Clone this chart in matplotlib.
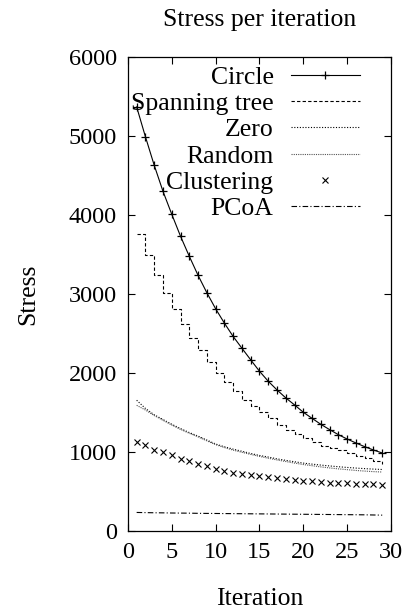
import matplotlib
matplotlib.use("Agg")
import matplotlib.pyplot as plt

plt.rcParams["font.family"] = ["Liberation Serif", "DejaVu Serif"]

iterations = list(range(1, 30))

circle = [5368, 4990, 4630, 4300, 4010, 3731, 3477, 3236, 3016, 2813,
          2631, 2462, 2313, 2166, 2022, 1895, 1785, 1684, 1595, 1502,
          1425, 1349, 1282, 1218, 1163, 1113, 1066, 1024, 986]
spanning_tree = [3756, 3494, 3245, 3016, 2808, 2614, 2445, 2284, 2132, 2001,
                 1882, 1768, 1662, 1586, 1502, 1430, 1345, 1282, 1227, 1176,
                 1129, 1078, 1049, 1024, 986, 952, 922, 879, 850]
zero = [1654, 1550, 1470, 1410, 1350, 1295, 1245, 1200, 1150, 1100,
        1065, 1035, 1008, 980, 955, 935, 912, 893, 875, 858,
        845, 833, 822, 812, 803, 795, 788, 782, 777]
random_init = [1590, 1530, 1460, 1400, 1340, 1285, 1235, 1190, 1140, 1092,
               1055, 1022, 995, 968, 943, 920, 898, 878, 858, 840,
               825, 810, 797, 785, 775, 765, 757, 750, 745]
clustering = [1119, 1084, 1030, 1000, 958, 916, 886, 852, 818, 780,
              755, 735, 722, 712, 700, 688, 672, 660, 648, 635,
              625, 618, 610, 605, 600, 596, 592, 588, 585]
pcoa = [233, 231, 229, 228, 226, 225, 224, 222, 221, 220,
        219, 218, 217, 216, 215, 214, 213, 212, 211, 210,
        209, 208, 207, 206, 205, 204, 203, 201, 199]

fig = plt.figure(figsize=(4.06, 6.13), dpi=100)
ax = fig.add_axes([0.315, 0.134, 0.648, 0.773])

lw = 0.8
ax.plot(iterations, circle, color="black", lw=lw, marker="+", ms=6, mew=0.9,
        label="Circle")
ax.plot(iterations, spanning_tree, color="black", lw=lw, ls=(0, (3, 2)),
        drawstyle="steps-post", label="Spanning tree")
ax.plot(iterations, zero, color="black", lw=lw, ls=(0, (1, 1.5)),
        label="Zero")
ax.plot(iterations, random_init, color="#555555", lw=lw, ls=(0, (1, 1)),
        label="Random")
ax.plot(iterations, clustering, color="black", lw=0, marker="x", ms=5,
        mew=0.8, label="Clustering")
ax.plot(iterations, pcoa, color="black", lw=lw, ls=(0, (5, 2, 1, 2)),
        label="PCoA")

ax.set_xlim(0, 30)
ax.set_ylim(0, 6000)
ax.set_xticks(range(0, 31, 5))
ax.set_yticks(range(0, 6001, 1000))
ax.tick_params(direction="in", top=True, right=True, length=5, width=0.8,
               labelsize=17.5, pad=8)
for s in ax.spines.values():
    s.set_linewidth(0.9)

ax.set_title("Stress per iteration", fontsize=18.5, pad=22)
ax.set_xlabel("Iteration", fontsize=18.5, labelpad=18)
ax.set_ylabel("Stress", fontsize=18.5, labelpad=21)

ax.legend(loc="upper right", bbox_to_anchor=(0.882, 0.982), frameon=False,
          markerfirst=False, fontsize=18.5, handlelength=2.7,
          handletextpad=0.66, labelspacing=0.13, borderpad=0,
          borderaxespad=0)

fig.savefig("out.png", dpi=100)
